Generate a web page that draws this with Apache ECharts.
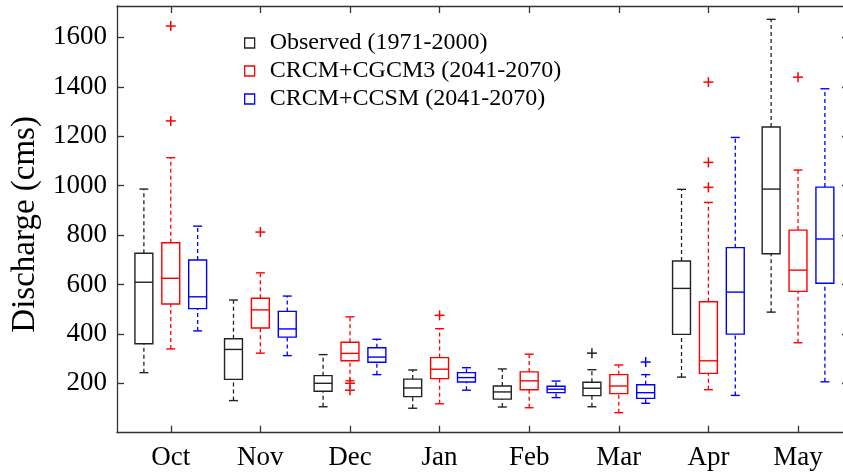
<!DOCTYPE html>
<html>
<head>
<meta charset="utf-8">
<script src="https://cdn.jsdelivr.net/npm/echarts@6/dist/echarts.min.js"></script>
<style>
  html, body { margin: 0; padding: 0; background: #fff; }
  #chart { width: 843px; height: 474px; }
</style>
</head>
<body>
<div id="chart"></div>
<script>
// months on the x axis (positions 1..8)
const months = ['Oct', 'Nov', 'Dec', 'Jan', 'Feb', 'Mar', 'Apr', 'May'];
const yTicks = [200, 400, 600, 800, 1000, 1200, 1400, 1600];

// [lower whisker, Q1, median, Q3, upper whisker] per month
const observedBox = [
    [243, 360, 609, 726, 986],
    [130, 216, 337, 380, 537],
    [105, 168, 200, 231, 316],
    [99, 146, 181, 217, 254],
    [104, 136, 165, 189, 258],
    [105, 150, 180, 204, 255],
    [225, 398, 584, 695, 985],
    [488, 724, 986, 1237, 1673]
];
const cgcm3Box = [
    [339, 521, 625, 769, 1113],
    [322, 424, 497, 544, 647],
    [210, 291, 321, 366, 469],
    [117, 219, 257, 304, 421],
    [101, 174, 210, 246, 318],
    [81, 158, 189, 235, 274],
    [174, 240, 291, 530, 932],
    [364, 572, 658, 820, 1063]
];
const ccsmBox = [
    [412, 502, 550, 699, 836],
    [312, 387, 420, 491, 553],
    [235, 285, 306, 344, 378],
    [172, 205, 223, 243, 263],
    [142, 162, 176, 188, 209],
    [119, 139, 162, 194, 235],
    [151, 399, 569, 749, 1195],
    [206, 605, 784, 994, 1392]
];

// outliers: [month position, value]
const observedOut = [[6, 322]];
const cgcm3Out = [[1, 1646], [1, 1262], [2, 812], [3, 200], [3, 172], [4, 475], [7, 1419], [7, 1094], [7, 993], [8, 1439]];
const ccsmOut = [[6, 286]];

const names = ['Observed (1971-2000)', 'CRCM+CGCM3 (2041-2070)', 'CRCM+CCSM (2041-2070)'];
const colors = ['#222222', '#ff0000', '#0000ff'];
const shifts = [-0.3, 0, 0.3]; // box offset inside a month
const FONT = 'Liberation Serif';

function boxRender(color, shift) {
    return function (params, api) {
        const x = api.value(0) + shift;
        const lo = api.coord([x, api.value(1)]);
        const q1 = api.coord([x, api.value(2)]);
        const md = api.coord([x, api.value(3)]);
        const q3 = api.coord([x, api.value(4)]);
        const hi = api.coord([x, api.value(5)]);
        const half = api.size([0.2, 0])[0] / 2;
        const cap = half / 2;
        const dash = { stroke: color, lineWidth: 1.3, lineDash: [4, 3], fill: null };
        const solid = { stroke: color, lineWidth: 1.4, fill: null };
        return {
            type: 'group',
            children: [
                { type: 'line', shape: { x1: lo[0], y1: lo[1], x2: q1[0], y2: q1[1] }, style: dash },
                { type: 'line', shape: { x1: q3[0], y1: q3[1], x2: hi[0], y2: hi[1] }, style: dash },
                { type: 'line', shape: { x1: lo[0] - cap, y1: lo[1], x2: lo[0] + cap, y2: lo[1] }, style: solid },
                { type: 'line', shape: { x1: hi[0] - cap, y1: hi[1], x2: hi[0] + cap, y2: hi[1] }, style: solid },
                { type: 'rect', shape: { x: q3[0] - half, y: q3[1], width: half * 2, height: q1[1] - q3[1] }, style: solid },
                { type: 'line', shape: { x1: md[0] - half, y1: md[1], x2: md[0] + half, y2: md[1] }, style: solid }
            ]
        };
    };
}

function plusRender(color, shift) {
    return function (params, api) {
        const p = api.coord([api.value(0) + shift, api.value(1)]);
        const r = 5;
        const st = { stroke: color, lineWidth: 1.5, fill: null };
        return {
            type: 'group',
            children: [
                { type: 'line', shape: { x1: p[0] - r, y1: p[1], x2: p[0] + r, y2: p[1] }, style: st },
                { type: 'line', shape: { x1: p[0], y1: p[1] - r, x2: p[0], y2: p[1] + r }, style: st }
            ]
        };
    };
}

const boxes = [observedBox, cgcm3Box, ccsmBox];
const outs = [observedOut, cgcm3Out, ccsmOut];
let series = [];
for (let i = 0; i < 3; i++) {
    series.push({
        type: 'custom',
        name: names[i],
        renderItem: boxRender(colors[i], shifts[i]),
        data: boxes[i].map((b, k) => [k + 1].concat(b)),
        encode: { x: 0, y: [1, 2, 3, 4, 5] },
        z: 3
    });
    series.push({
        type: 'custom',
        name: names[i],
        renderItem: plusRender(colors[i], shifts[i]),
        data: outs[i],
        encode: { x: 0, y: 1 },
        z: 3
    });
}

function ticks(values) {
    return { show: true, inside: true, length: 7, customValues: values, lineStyle: { color: '#333', width: 1.3 } };
}
const monthPos = [1, 2, 3, 4, 5, 6, 7, 8];

let chart = echarts.init(document.getElementById('chart'));
let option = {
    backgroundColor: '#fff',
    animation: false,
    grid: { left: 117, top: 6, width: 732, height: 426.7, outerBoundsMode: 'none', containLabel: false },
    legend: {
        orient: 'vertical',
        left: 239,
        top: 26,
        itemWidth: 10,
        itemHeight: 10,
        itemGap: 4,
        selectedMode: false,
        textStyle: { fontFamily: FONT, fontSize: 24, lineHeight: 24, color: '#000', padding: [0, 0, 0, 10] },
        data: names.map((n, i) => ({
            name: n,
            icon: 'rect',
            itemStyle: { color: '#fff', borderColor: colors[i], borderWidth: 1.3 }
        }))
    },
    xAxis: [
        {
            type: 'value', min: 0.4, max: 8.569,
            splitLine: { show: false },
            axisLine: { show: true, onZero: false, lineStyle: { color: '#333', width: 1.3 } },
            axisTick: ticks(monthPos),
            axisLabel: {
                customValues: monthPos,
                formatter: v => months[Math.round(v) - 1],
                fontFamily: FONT, fontSize: 27, color: '#000', margin: 12
            }
        },
        {
            type: 'value', min: 0.4, max: 8.569, position: 'top',
            splitLine: { show: false },
            axisLine: { show: true, onZero: false, lineStyle: { color: '#333', width: 1.3 } },
            axisTick: ticks(monthPos),
            axisLabel: { show: false }
        }
    ],
    yAxis: [
        {
            type: 'value', min: 0, max: 1727, position: 'left',
            name: 'Discharge (cms)',
            nameLocation: 'middle',
            nameGap: 72,
            nameRotate: 90,
            nameTextStyle: { fontFamily: FONT, fontSize: 33, color: '#000', padding: [0, 10, 0, 0] },
            splitLine: { show: false },
            axisLine: { show: true, onZero: false, lineStyle: { color: '#333', width: 1.3 } },
            axisTick: ticks(yTicks),
            axisLabel: { customValues: yTicks, formatter: v => String(v), fontFamily: FONT, fontSize: 27, color: '#000', margin: 10 }
        },
        {
            type: 'value', min: 0, max: 1727, position: 'right',
            splitLine: { show: false },
            axisLine: { show: true, onZero: false, lineStyle: { color: '#333', width: 1.3 } },
            axisTick: ticks(yTicks),
            axisLabel: { show: false }
        }
    ],
    series: series
};
chart.setOption(option);
</script>
</body>
</html>
